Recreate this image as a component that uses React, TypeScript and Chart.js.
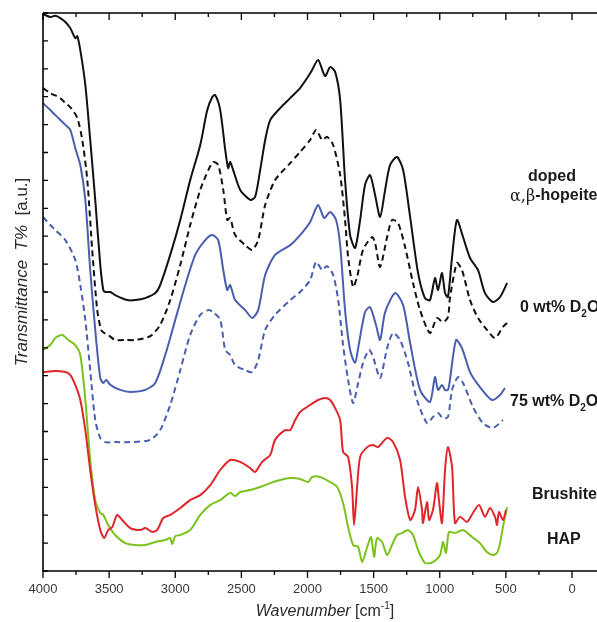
import React, { useEffect, useRef } from "react";
import { Chart, registerables } from "chart.js";

Chart.register(...registerables);

// ---- data (wavenumber in cm^-1, transmittance in a.u.) ----
const hopeiteWn = [4000, 3945, 3907, 3869, 3831, 3794, 3756, 3741, 3718, 3680, 3643, 3605, 3567, 3544, 3529, 3491, 3454, 3363, 3302, 3227, 3151, 3114, 3038, 2962, 2887, 2811, 2758, 2720, 2698, 2660, 2622, 2600, 2585, 2562, 2509, 2433, 2396, 2358, 2320, 2282, 2207, 2131, 2056, 2003, 1965, 1920, 1867, 1829, 1791, 1753, 1716, 1678, 1640, 1602, 1565, 1527, 1489, 1451, 1413, 1376, 1323, 1277, 1224, 1164, 1112, 1074, 1036, 1013, 983, 960, 938, 907, 870, 824, 771, 711, 658, 597, 544, 491];
const hopeiteT = [19.96, 19.86, 19.9, 19.82, 19.68, 19.46, 19.1, 19.17, 18.67, 17.42, 15.45, 13.3, 10.97, 10.07, 10.0, 10.0, 9.89, 9.71, 9.71, 9.78, 9.96, 10.25, 11.33, 12.58, 14.01, 15.27, 16.52, 16.99, 17.06, 16.52, 15.09, 14.44, 14.66, 14.37, 13.66, 13.3, 13.41, 14.37, 15.45, 16.16, 16.59, 16.95, 17.31, 17.67, 17.96, 18.32, 17.74, 18.06, 17.89, 16.88, 14.01, 12.04, 11.58, 12.58, 13.84, 14.19, 13.48, 12.69, 13.66, 14.55, 14.84, 14.37, 12.69, 10.68, 9.78, 9.71, 10.5, 10.07, 10.68, 9.96, 9.82, 11.25, 12.58, 11.97, 11.22, 10.79, 9.96, 9.64, 9.82, 10.32];

const d0Wn = [4000, 3945, 3869, 3831, 3794, 3741, 3703, 3665, 3628, 3590, 3560, 3537, 3507, 3454, 3378, 3302, 3189, 3114, 3038, 2962, 2887, 2811, 2750, 2713, 2675, 2637, 2607, 2585, 2547, 2471, 2418, 2373, 2320, 2245, 2131, 2056, 1980, 1935, 1889, 1852, 1806, 1753, 1716, 1693, 1655, 1625, 1580, 1512, 1489, 1451, 1398, 1361, 1315, 1262, 1202, 1149, 1074, 1021, 976, 938, 923, 870, 832, 771, 711, 643, 582, 522, 491];
const d0T = [17.31, 17.13, 16.95, 16.77, 16.63, 16.24, 15.45, 14.01, 11.51, 9.35, 8.64, 8.53, 8.46, 8.28, 8.28, 8.28, 8.42, 8.82, 9.71, 10.97, 12.4, 13.66, 14.37, 14.66, 14.55, 13.66, 12.58, 12.65, 12.04, 11.68, 11.51, 11.86, 13.12, 14.01, 14.62, 15.02, 15.45, 15.81, 15.45, 15.56, 15.27, 14.19, 12.58, 11.25, 10.18, 10.54, 11.51, 11.97, 11.76, 10.9, 11.97, 12.58, 12.47, 11.61, 10.32, 9.35, 8.53, 9.07, 8.92, 9.1, 9.78, 11.04, 10.79, 9.71, 9.07, 8.64, 8.35, 8.75, 8.89];

const d75Wn = [4000, 3945, 3907, 3831, 3794, 3756, 3718, 3680, 3643, 3605, 3567, 3544, 3522, 3491, 3416, 3340, 3227, 3151, 3076, 3000, 2924, 2849, 2773, 2720, 2675, 2637, 2607, 2585, 2547, 2471, 2418, 2373, 2320, 2245, 2131, 2056, 1980, 1920, 1874, 1829, 1784, 1753, 1716, 1678, 1640, 1617, 1565, 1527, 1482, 1451, 1413, 1338, 1277, 1224, 1149, 1074, 1036, 1013, 983, 960, 938, 923, 877, 832, 771, 696, 605, 544, 507];
const d75T = [16.77, 16.52, 16.34, 15.99, 15.81, 15.16, 14.55, 13.3, 10.79, 8.64, 6.92, 6.74, 6.85, 6.67, 6.49, 6.42, 6.49, 6.74, 7.74, 9.0, 10.25, 11.33, 11.86, 12.04, 11.86, 10.79, 10.07, 10.25, 9.71, 9.35, 9.07, 9.35, 10.61, 11.33, 11.68, 12.04, 12.51, 13.12, 12.65, 12.87, 12.58, 11.68, 9.35, 7.92, 7.46, 7.99, 9.28, 9.46, 8.82, 8.28, 9.28, 9.96, 9.53, 8.17, 6.49, 6.06, 6.95, 6.49, 6.67, 6.49, 6.49, 6.85, 8.28, 7.99, 7.13, 6.59, 6.13, 6.31, 6.56];

const d75dWn = [4000, 3945, 3907, 3831, 3756, 3718, 3680, 3643, 3605, 3567, 3529, 3454, 3340, 3189, 3114, 3038, 2962, 2887, 2811, 2750, 2713, 2660, 2622, 2585, 2547, 2471, 2418, 2373, 2320, 2245, 2131, 2056, 1980, 1935, 1889, 1852, 1806, 1768, 1731, 1693, 1655, 1617, 1580, 1534, 1504, 1451, 1398, 1353, 1300, 1240, 1172, 1096, 1051, 1013, 976, 938, 907, 862, 824, 749, 673, 597, 522];
const d75dT = [12.69, 12.4, 12.22, 11.86, 11.15, 10.25, 9.0, 7.2, 5.41, 4.77, 4.62, 4.62, 4.62, 4.7, 5.05, 5.95, 7.2, 8.46, 9.18, 9.35, 9.28, 9.0, 7.92, 7.74, 7.38, 7.2, 7.13, 7.56, 8.64, 9.18, 9.71, 10.0, 10.43, 11.08, 10.79, 10.93, 10.61, 9.71, 8.1, 6.85, 6.02, 6.74, 7.46, 7.92, 7.67, 6.92, 7.99, 8.53, 8.28, 7.46, 6.13, 5.3, 5.52, 5.66, 5.48, 5.52, 6.49, 6.95, 6.74, 5.88, 5.3, 5.13, 5.41];

const brushiteWn = [4000, 3907, 3831, 3794, 3756, 3718, 3680, 3643, 3605, 3567, 3537, 3507, 3476, 3439, 3401, 3340, 3265, 3227, 3174, 3136, 3091, 3038, 2962, 2887, 2811, 2735, 2660, 2585, 2509, 2433, 2396, 2343, 2282, 2245, 2169, 2131, 2093, 2056, 1980, 1920, 1867, 1829, 1791, 1753, 1731, 1693, 1663, 1648, 1625, 1602, 1549, 1504, 1467, 1398, 1353, 1300, 1262, 1224, 1187, 1164, 1134, 1127, 1096, 1081, 1051, 1021, 1006, 983, 960, 938, 907, 885, 847, 794, 749, 703, 658, 620, 582, 567, 552, 522, 499];
const brushiteT = [7.13, 7.17, 7.13, 7.03, 6.67, 6.13, 5.05, 3.62, 2.37, 1.47, 1.18, 1.47, 1.58, 2.01, 1.83, 1.54, 1.47, 1.54, 1.4, 1.47, 1.9, 2.01, 2.26, 2.54, 2.72, 3.08, 3.62, 3.98, 3.91, 3.69, 3.55, 3.91, 4.16, 4.7, 5.05, 5.05, 5.41, 5.7, 5.95, 6.13, 6.2, 6.13, 5.84, 5.41, 4.27, 4.09, 3.01, 1.65, 3.01, 4.09, 4.44, 4.52, 4.44, 4.77, 4.62, 3.98, 2.65, 1.83, 2.19, 3.01, 2.19, 1.72, 2.47, 1.83, 2.19, 3.15, 2.54, 1.72, 3.62, 4.44, 3.73, 1.72, 1.94, 1.76, 2.08, 2.37, 1.94, 2.26, 1.94, 1.65, 2.11, 1.83, 2.19];

const hapWn = [4000, 3945, 3907, 3854, 3809, 3756, 3718, 3680, 3643, 3605, 3567, 3544, 3507, 3454, 3378, 3302, 3227, 3151, 3076, 3038, 3023, 3000, 2962, 2887, 2811, 2735, 2660, 2585, 2547, 2509, 2433, 2358, 2282, 2207, 2131, 2056, 1995, 1965, 1905, 1829, 1776, 1731, 1693, 1655, 1617, 1587, 1549, 1519, 1497, 1474, 1436, 1398, 1361, 1323, 1285, 1240, 1202, 1164, 1112, 1051, 998, 976, 953, 930, 885, 824, 756, 696, 643, 597, 567, 544, 522, 491];
const hapT = [7.92, 8.1, 8.35, 8.46, 8.28, 8.1, 7.74, 6.13, 3.98, 2.54, 2.08, 2.01, 1.65, 1.29, 1.0, 0.93, 0.93, 1.04, 1.11, 1.18, 0.97, 1.25, 1.29, 1.47, 2.01, 2.37, 2.54, 2.8, 2.69, 2.83, 2.9, 3.01, 3.15, 3.26, 3.33, 3.3, 3.19, 3.37, 3.37, 3.19, 3.01, 2.44, 1.58, 0.93, 0.86, 0.32, 0.86, 1.22, 0.5, 1.18, 1.04, 0.57, 0.93, 1.29, 1.36, 1.47, 1.29, 0.75, 0.29, 0.32, 0.57, 1.04, 0.65, 1.4, 1.36, 1.47, 1.22, 1.0, 0.68, 0.57, 0.65, 1.0, 1.58, 2.29];

const xLabelTicks = [4000, 3500, 3000, 2500, 2000, 1500, 1000, 500, 0];
const xMinorTicks = [3750, 3250, 2750, 2250, 1750, 1250, 750, 250];
const yTicks = Array.from({ length: 21 }, (_, i) => i);

const BLACK = "#111111";
const BLUE = "#4a5eb0";
const RED = "#e0262b";
const GREEN = "#7cc21f";

const pts = (wn: number[], t: number[]) => wn.map((w, i) => ({ x: w, y: t[i] }));

const FONT = "'Liberation Sans', Arial, sans-serif";

const decorPlugin = {
  id: "decor",
  afterDraw(chart: any) {
    const { ctx, chartArea: a, scales } = chart;
    const x = scales.x;
    const y = scales.y;
    ctx.save();
    ctx.strokeStyle = "#000";
    ctx.lineWidth = 1.6;
    ctx.beginPath();
    ctx.moveTo(a.left, a.top);
    ctx.lineTo(a.right, a.top);
    ctx.moveTo(a.left, a.top);
    ctx.lineTo(a.left, a.bottom);
    ctx.lineTo(a.right, a.bottom);
    ctx.stroke();

    ctx.lineWidth = 1.3;
    ctx.beginPath();
    for (const v of xLabelTicks) {
      const px = x.getPixelForValue(v);
      ctx.moveTo(px, a.bottom);
      ctx.lineTo(px, a.bottom + 7);
      ctx.moveTo(px, a.top);
      ctx.lineTo(px, a.top + 7);
    }
    for (const v of xMinorTicks) {
      const px = x.getPixelForValue(v);
      ctx.moveTo(px, a.bottom);
      ctx.lineTo(px, a.bottom + 4);
      ctx.moveTo(px, a.top);
      ctx.lineTo(px, a.top + 4);
    }
    for (const v of yTicks) {
      const py = y.getPixelForValue(v);
      ctx.moveTo(a.left, py);
      ctx.lineTo(a.left + 5, py);
    }
    ctx.stroke();

    // tick labels
    ctx.fillStyle = "#3a3a3a";
    ctx.font = `13px ${FONT}`;
    ctx.textAlign = "center";
    ctx.textBaseline = "middle";
    for (const v of xLabelTicks) {
      ctx.fillText(String(v), x.getPixelForValue(v), a.bottom + 18);
    }

    // x title
    ctx.fillStyle = "#2a2a2a";
    ctx.textAlign = "left";
    ctx.font = `italic 16px ${FONT}`;
    const t1 = "Wavenumber ";
    ctx.font = `italic 16px ${FONT}`;
    const w1 = ctx.measureText(t1).width;
    ctx.font = `16px ${FONT}`;
    const w2 = ctx.measureText("[cm").width;
    ctx.font = `10px ${FONT}`;
    const w3 = ctx.measureText("-1").width;
    ctx.font = `16px ${FONT}`;
    const w4 = ctx.measureText("]").width;
    const total = w1 + w2 + w3 + w4;
    let sx = 325 - total / 2;
    const ty = 612;
    ctx.font = `italic 16px ${FONT}`;
    ctx.fillText(t1, sx, ty);
    sx += w1;
    ctx.font = `16px ${FONT}`;
    ctx.fillText("[cm", sx, ty);
    sx += w2;
    ctx.font = `10px ${FONT}`;
    ctx.fillText("-1", sx, ty - 6);
    sx += w3;
    ctx.font = `16px ${FONT}`;
    ctx.fillText("]", sx, ty);

    // y title
    ctx.save();
    ctx.translate(22, 272);
    ctx.rotate(-Math.PI / 2);
    ctx.font = `italic 17px ${FONT}`;
    const p1 = "Transmittance  T%  ";
    const q1 = ctx.measureText(p1).width;
    ctx.font = `17px ${FONT}`;
    const p2 = "[a.u.]";
    const q2 = ctx.measureText(p2).width;
    let yx = -(q1 + q2) / 2;
    ctx.font = `italic 17px ${FONT}`;
    ctx.fillText(p1, yx, 0);
    yx += q1;
    ctx.font = `17px ${FONT}`;
    ctx.fillText(p2, yx, 0);
    ctx.restore();

    // series labels
    ctx.fillStyle = "#1a1a1a";
    ctx.textAlign = "center";
    ctx.font = `bold 16px ${FONT}`;
    ctx.fillText("doped", 552, 177);
    ctx.textAlign = "left";
    ctx.font = `16px 'DejaVu Serif', serif`;
    ctx.fillText("\u03b1,\u03b2", 510, 197);
    const ab = ctx.measureText("\u03b1,\u03b2").width;
    ctx.font = `bold 16px ${FONT}`;
    ctx.fillText("-hopeite", 510 + ab, 196);

    const d2o = (prefix: string, lx: number, ly: number) => {
      ctx.font = `bold 16px ${FONT}`;
      ctx.fillText(prefix + "D", lx, ly);
      let cx = lx + ctx.measureText(prefix + "D").width;
      ctx.font = `bold 10px ${FONT}`;
      ctx.fillText("2", cx, ly + 6);
      cx += ctx.measureText("2").width;
      ctx.font = `bold 16px ${FONT}`;
      ctx.fillText("O", cx, ly);
    };
    d2o("0 wt% ", 520, 308);
    d2o("75 wt% ", 510, 402);

    ctx.font = `bold 16px ${FONT}`;
    ctx.fillText("Brushite", 532, 495);
    ctx.fillText("HAP", 547, 540);
    ctx.restore();
  },
};

export default function App() {
  const ref = useRef<HTMLCanvasElement | null>(null);

  useEffect(() => {
    if (!ref.current) return;
    const base = { pointRadius: 0, borderWidth: 2, tension: 0.25, fill: false };
    const chart = new Chart(ref.current, {
      type: "line",
      data: {
        datasets: [
          { ...base, label: "doped", data: pts(hopeiteWn, hopeiteT), borderColor: BLACK },
          { ...base, label: "0 wt% D2O", data: pts(d0Wn, d0T), borderColor: BLACK, borderDash: [6, 4] },
          { ...base, label: "75 wt% D2O solid", data: pts(d75Wn, d75T), borderColor: BLUE },
          { ...base, label: "75 wt% D2O", data: pts(d75dWn, d75dT), borderColor: BLUE, borderDash: [6, 4] },
          { ...base, label: "Brushite", data: pts(brushiteWn, brushiteT), borderColor: RED },
          { ...base, label: "HAP", data: pts(hapWn, hapT), borderColor: GREEN },
        ],
      },
      options: {
        responsive: false,
        animation: false,
        devicePixelRatio: 1,
        layout: { padding: { left: 43, top: 13, right: 0, bottom: 51 } },
        plugins: { legend: { display: false }, tooltip: { enabled: false } },
        scales: {
          x: { type: "linear", reverse: true, min: -189, max: 4000, display: false },
          y: { type: "linear", min: 0, max: 20, display: false },
        },
      },
      plugins: [decorPlugin],
    });
    return () => chart.destroy();
  }, []);

  return (
    <div style={{ position: "fixed", left: 0, top: 0, width: 597, height: 622, background: "#fff" }}>
      <canvas ref={ref} width={597} height={622} />
    </div>
  );
}
